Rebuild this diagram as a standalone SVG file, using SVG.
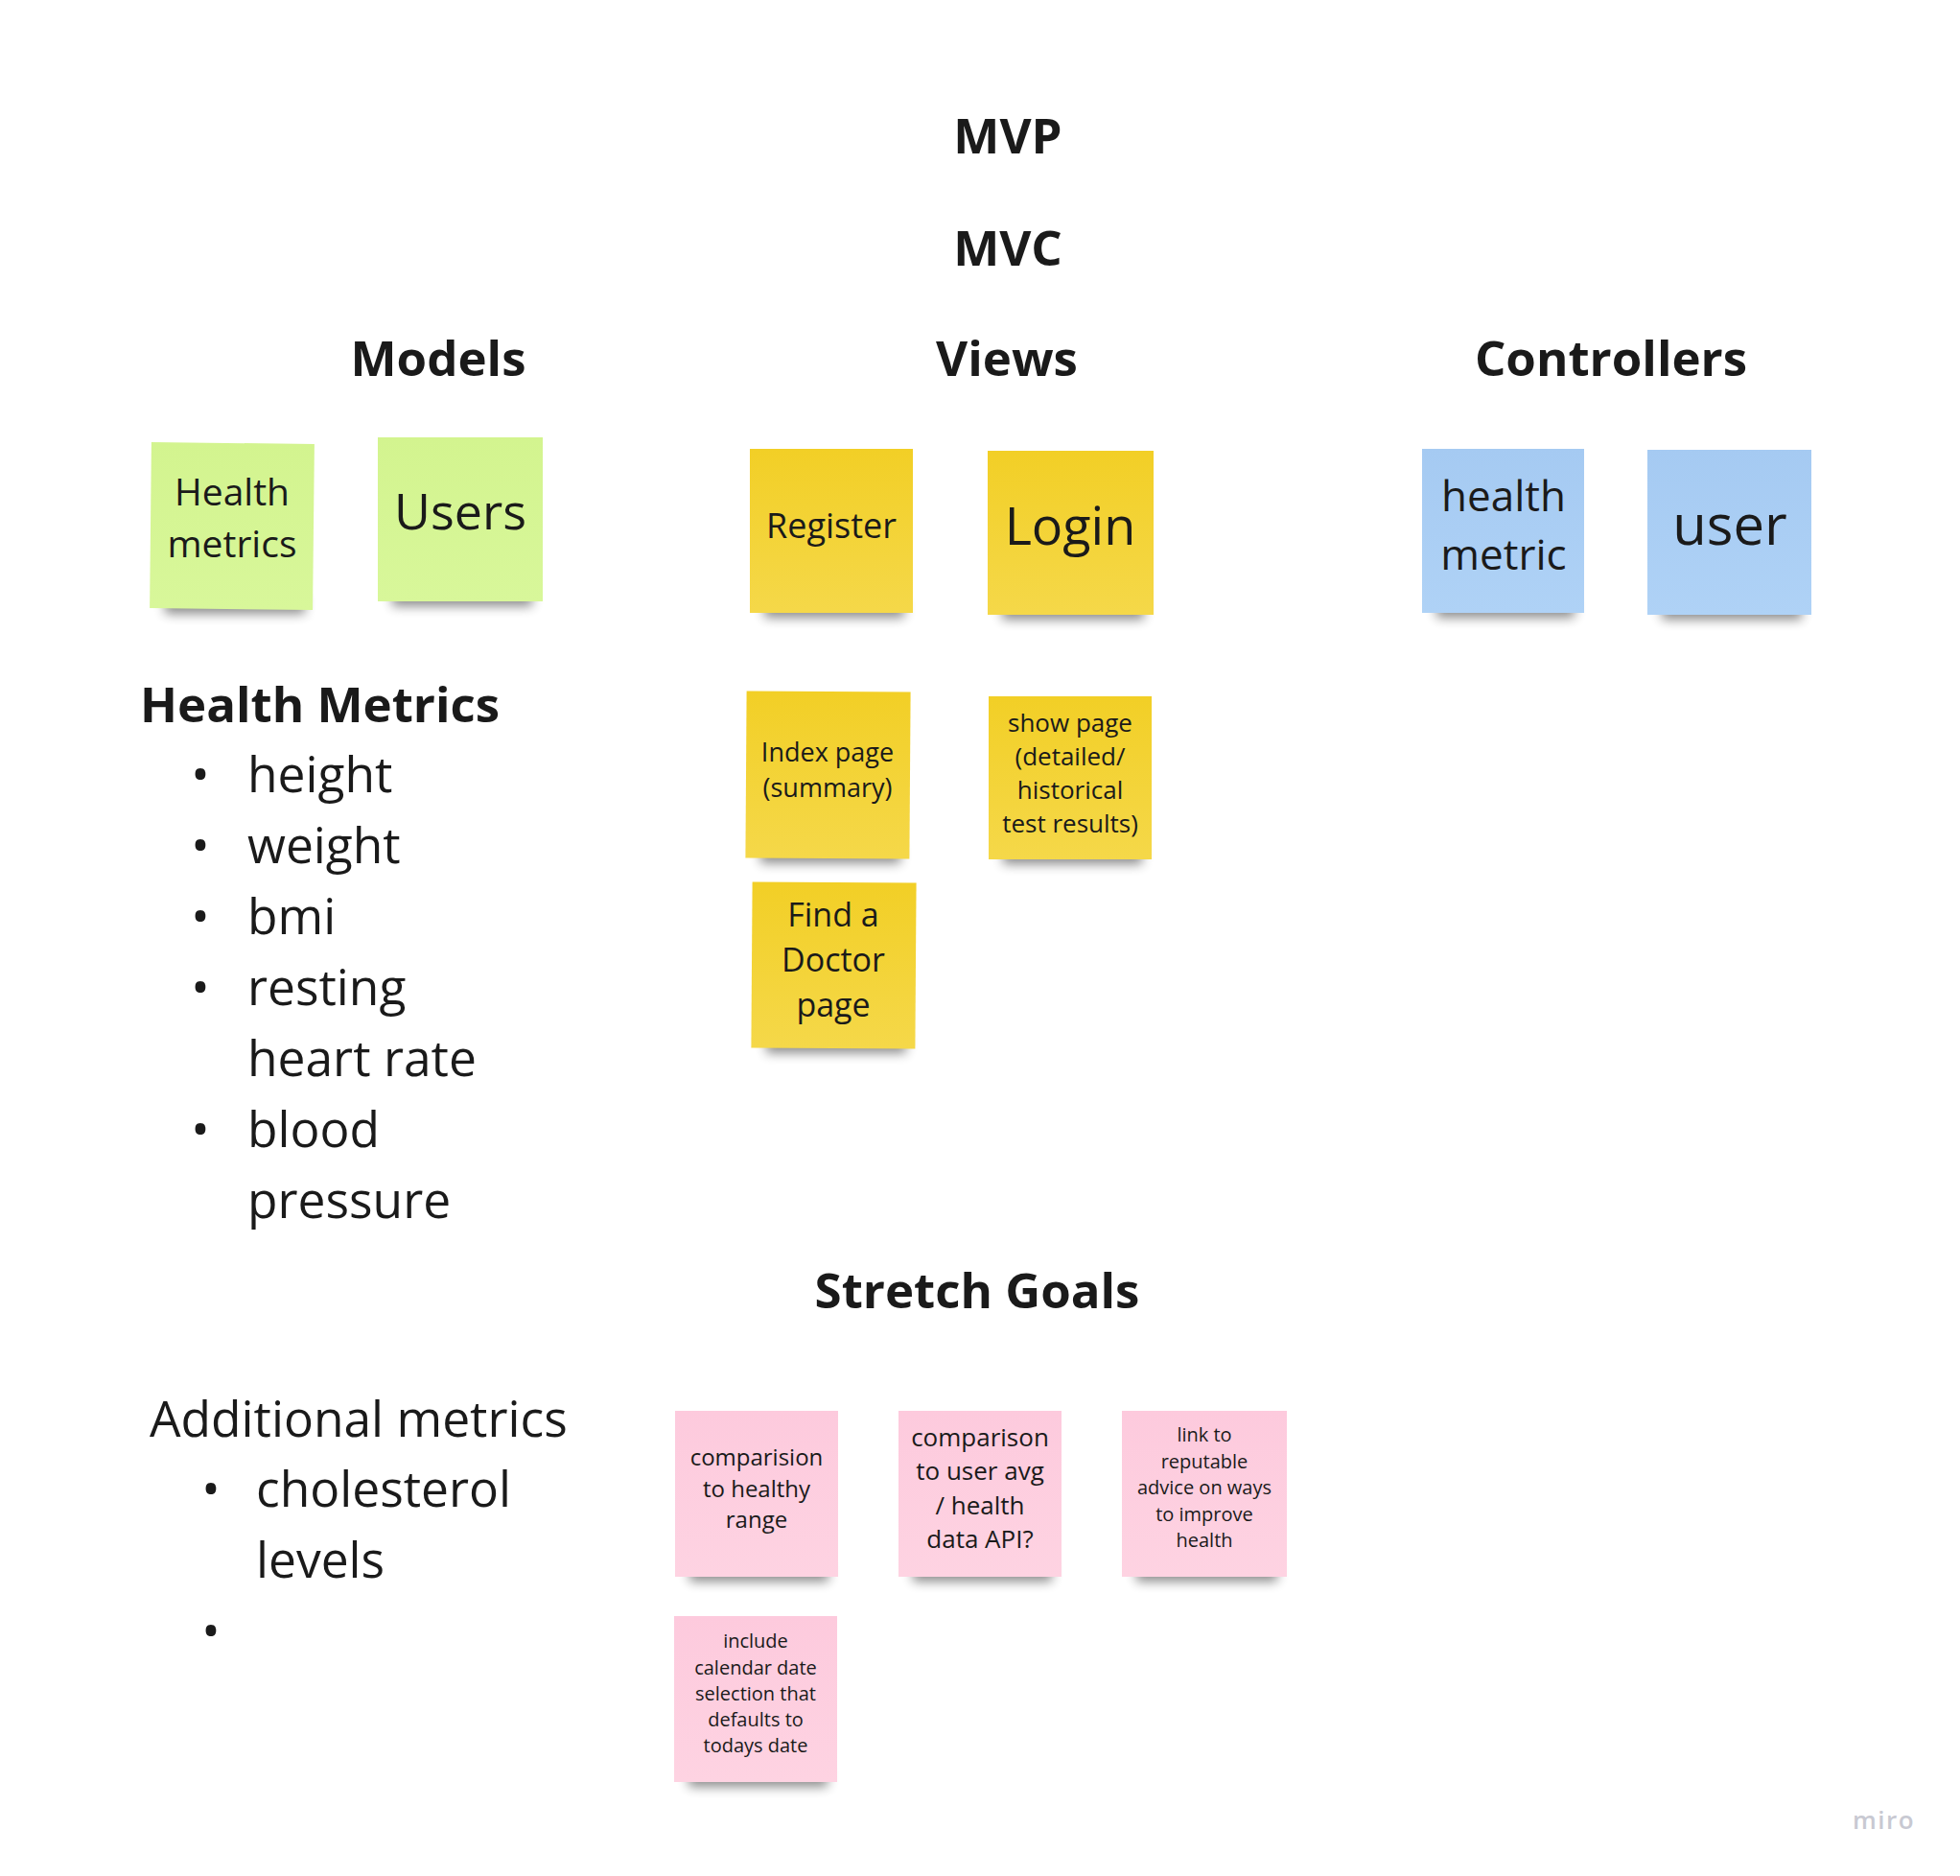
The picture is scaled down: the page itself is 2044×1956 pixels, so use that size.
<svg xmlns="http://www.w3.org/2000/svg" width="2044" height="1956" viewBox="0 0 2044 1956">
<style>
.h{font-family:"Open Sans","Liberation Sans",sans-serif;font-weight:700;font-size:51px;fill:#1a1a1a}
.t{font-family:"Open Sans","Liberation Sans",sans-serif;font-weight:400;fill:#1a1a1a}
.c{text-anchor:middle}
.sh{fill:#000;opacity:0.45;filter:url(#blur)}
.g{fill:url(#gG)}
.y{fill:url(#gY)}
.b{fill:url(#gB)}
.p{fill:url(#gP)}
</style>
<defs>
<filter id="blur" x="-20%" y="-100%" width="140%" height="300%"><feGaussianBlur stdDeviation="6"/></filter>
<linearGradient id="gG" x1="0" y1="0" x2="0" y2="1"><stop offset="0" stop-color="#d3f48f"/><stop offset="1" stop-color="#d8f79a"/></linearGradient>
<linearGradient id="gY" x1="0" y1="0" x2="0" y2="1"><stop offset="0" stop-color="#f2cf26"/><stop offset="1" stop-color="#f5d849"/></linearGradient>
<linearGradient id="gB" x1="0" y1="0" x2="0" y2="1"><stop offset="0" stop-color="#a5caf2"/><stop offset="1" stop-color="#afd2f6"/></linearGradient>
<linearGradient id="gP" x1="0" y1="0" x2="0" y2="1"><stop offset="0" stop-color="#fdcadd"/><stop offset="1" stop-color="#fed3e2"/></linearGradient>
</defs>
<rect width="2044" height="1956" fill="#ffffff"/>

<g id="titles">
<text class="h c" x="1051" y="160">MVP</text>
<text class="h c" x="1051" y="277">MVC</text>
<text class="h c" x="457" y="392">Models</text>
<text class="h c" x="1050" y="392">Views</text>
<text class="h c" x="1680" y="392">Controllers</text>
<text class="h" x="146" y="753">Health Metrics</text>
<text class="h c" x="1019" y="1364">Stretch Goals</text>
</g>

<g id="health-metrics-list" class="t" font-size="51.5">
<text x="209" y="826" class="c">•</text><text x="258" y="826">height</text>
<text x="209" y="900" class="c">•</text><text x="258" y="900">weight</text>
<text x="209" y="974" class="c">•</text><text x="258" y="974">bmi</text>
<text x="209" y="1048" class="c">•</text><text x="258" y="1048">resting</text>
<text x="258" y="1122">heart rate</text>
<text x="209" y="1196" class="c">•</text><text x="258" y="1196">blood</text>
<text x="258" y="1270">pressure</text>
</g>

<g id="additional-metrics" class="t" font-size="51.5">
<text x="156" y="1498">Additional metrics</text>
<text x="220" y="1571" class="c">•</text><text x="267" y="1571">cholesterol</text>
<text x="267" y="1645">levels</text>
<text x="220" y="1719" class="c">•</text>
</g>

<g id="note-health-metrics">
<rect class="sh" x="172" y="622" width="146" height="18"/>
<rect class="g" x="157" y="462" width="170" height="173" transform="rotate(0.6 242 548)"/>
<text class="t c" font-size="39" x="242" y="527">Health</text>
<text class="t c" font-size="39" x="242" y="581">metrics</text>
</g>

<g id="note-users">
<rect class="sh" x="409" y="614" width="146" height="18"/>
<rect class="g" x="394" y="456" width="172" height="171"/>
<text class="t c" font-size="52" x="480" y="552">Users</text>
</g>

<g id="note-register">
<rect class="sh" x="797" y="626" width="146" height="18"/>
<rect class="y" x="782" y="468" width="170" height="171"/>
<text class="t c" font-size="36" x="867" y="561">Register</text>
</g>

<g id="note-login">
<rect class="sh" x="1045" y="628" width="148" height="18"/>
<rect class="y" x="1030" y="470" width="173" height="171"/>
<text class="t c" font-size="54" x="1116" y="568">Login</text>
</g>

<g id="note-health-metric">
<rect class="sh" x="1498" y="626" width="144" height="18"/>
<rect class="b" x="1483" y="468" width="169" height="171"/>
<text class="t c" font-size="44" x="1568" y="533">health</text>
<text class="t c" font-size="44" x="1568" y="594">metric</text>
</g>

<g id="note-user">
<rect class="sh" x="1733" y="628" width="146" height="18"/>
<rect class="b" x="1718" y="469" width="171" height="172"/>
<text class="t c" font-size="58" x="1804" y="568">user</text>
</g>

<g id="note-index-page">
<rect class="sh" x="793" y="882" width="146" height="18"/>
<rect class="y" x="778" y="721" width="171" height="174" transform="rotate(0.4 863 808)"/>
<text class="t c" font-size="27" x="863" y="794">Index page</text>
<text class="t c" font-size="27" x="863" y="831">(summary)</text>
</g>

<g id="note-show-page">
<rect class="sh" x="1046" y="883" width="145" height="18"/>
<rect class="y" x="1031" y="726" width="170" height="170"/>
<text class="t c" font-size="26" x="1116" y="763">show page</text>
<text class="t c" font-size="26" x="1116" y="798">(detailed/</text>
<text class="t c" font-size="26" x="1116" y="833">historical</text>
<text class="t c" font-size="26" x="1116" y="868">test results)</text>
</g>

<g id="note-find-doctor">
<rect class="sh" x="799" y="1080" width="146" height="18"/>
<rect class="y" x="784" y="920" width="171" height="173" transform="rotate(0.4 869 1006)"/>
<text class="t c" font-size="34" x="869" y="966">Find a</text>
<text class="t c" font-size="34" x="869" y="1013">Doctor</text>
<text class="t c" font-size="34" x="869" y="1060">page</text>
</g>

<g id="note-comparision">
<rect class="sh" x="719" y="1631" width="145" height="18"/>
<rect class="p" x="704" y="1471" width="170" height="173"/>
<text class="t c" font-size="24" x="789" y="1528">comparision</text>
<text class="t c" font-size="24" x="789" y="1561">to healthy</text>
<text class="t c" font-size="24" x="789" y="1593">range</text>
</g>

<g id="note-comparison">
<rect class="sh" x="952" y="1631" width="145" height="18"/>
<rect class="p" x="937" y="1471" width="170" height="173"/>
<text class="t c" font-size="26" x="1022" y="1508">comparison</text>
<text class="t c" font-size="26" x="1022" y="1543">to user avg</text>
<text class="t c" font-size="26" x="1022" y="1579">/ health</text>
<text class="t c" font-size="26" x="1022" y="1614">data API?</text>
</g>

<g id="note-link">
<rect class="sh" x="1185" y="1631" width="147" height="18"/>
<rect class="p" x="1170" y="1471" width="172" height="173"/>
<text class="t c" font-size="20" x="1256" y="1503">link to</text>
<text class="t c" font-size="20" x="1256" y="1531">reputable</text>
<text class="t c" font-size="20" x="1256" y="1558">advice on ways</text>
<text class="t c" font-size="20" x="1256" y="1586">to improve</text>
<text class="t c" font-size="20" x="1256" y="1613">health</text>
</g>

<g id="note-include">
<rect class="sh" x="718" y="1845" width="145" height="18"/>
<rect class="p" x="703" y="1685" width="170" height="173"/>
<text class="t c" font-size="20" x="788" y="1718">include</text>
<text class="t c" font-size="20" x="788" y="1746">calendar date</text>
<text class="t c" font-size="20" x="788" y="1773">selection that</text>
<text class="t c" font-size="20" x="788" y="1800">defaults to</text>
<text class="t c" font-size="20" x="788" y="1827">todays date</text>
</g>

<g id="connectors"></g>

<g id="watermark">
<text x="1932" y="1907" font-family="'Open Sans','Liberation Sans',sans-serif" font-weight="600" font-size="26" letter-spacing="1.5" fill="#c8c9d2">miro</text>
</g>
</svg>
